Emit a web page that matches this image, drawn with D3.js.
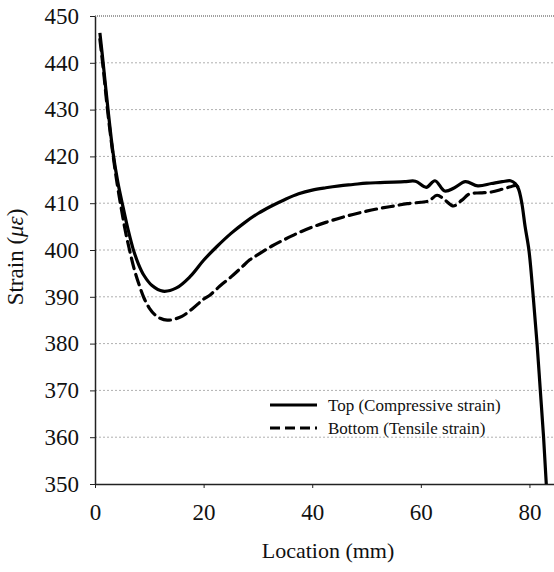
<!DOCTYPE html>
<html>
<head>
<meta charset="utf-8">
<script src="https://cdn.jsdelivr.net/npm/d3@7/dist/d3.min.js"></script>
<style>
  html, body { margin: 0; padding: 0; background: #fff; }
  svg { display: block; }
</style>
</head>
<body>
<svg id="chart" width="554" height="572"></svg>
<script>
// ---- Data ----
const xTicks = [0, 20, 40, 60, 80];
const yTicks = [350, 360, 370, 380, 390, 400, 410, 420, 430, 440, 450];

const topLabel = "Top (Compressive strain)";
const topX = [0.9, 1.5, 2.4, 3.3, 4.2, 5.2, 6.1, 7.0, 8.0, 9.0, 10.5, 12.5, 15, 17.5, 20, 22.5, 25, 27.5, 30, 32.5, 35, 37.5, 40, 42.5, 45, 47.5, 50, 52.5, 55, 57, 59, 61, 62.6, 64.4, 66.2, 68.2, 70.5, 73, 75, 76.5, 77.4, 78, 78.6, 79.2, 79.9, 80.7, 81.4, 82, 82.6, 83.1, 83.5];
const topY = [446.4, 440, 430, 421, 414.5, 409, 404.3, 400.3, 397, 394.6, 392.4, 391.2, 391.9, 394.3, 397.8, 400.8, 403.5, 405.8, 407.8, 409.4, 410.8, 412, 412.8, 413.3, 413.7, 414, 414.3, 414.4, 414.5, 414.6, 414.7, 413.4, 414.8, 412.6, 413.3, 414.6, 413.7, 414.2, 414.6, 414.8, 414.2, 413, 410, 405, 400, 390, 380, 370, 360, 350, 344];

const botLabel = "Bottom (Tensile strain)";
const botX = [0.9, 1.5, 2.3, 3.3, 4.1, 4.9, 5.6, 6.4, 7.2, 8, 9, 10, 11, 12, 13.3, 14.5, 16, 18, 20, 21.2, 23, 25, 27, 28.5, 30, 32.5, 35, 37.5, 40, 42.5, 45, 47.5, 50, 52.5, 55, 57.5, 60, 61.5, 63, 64.5, 66, 67.5, 69, 71, 73, 75, 76.5, 77.5, 78.2];
const botY = [445, 439, 430, 420.5, 414, 408.5, 404, 399.8, 396, 393, 389.8, 387.6, 386.2, 385.4, 385, 385.2, 385.8, 387.5, 389.5, 390.4, 392.3, 394.2, 396.3, 397.9, 399, 400.8, 402.3, 403.7, 404.9, 405.9, 406.8, 407.6, 408.3, 408.9, 409.4, 409.9, 410.2, 410.5, 411.7, 410.6, 409.4, 410.6, 412, 412.2, 412.4, 413, 413.5, 413.8, 413];

// ---- Layout ----
const svg = d3.select("#chart");
const x = d3.scaleLinear().domain([0, 85]).range([95, 556.6]);
const y = d3.scaleLinear().domain([350, 450]).range([484, 16]);
const serif = '"Liberation Serif", "Times New Roman", Tinos, Times, serif';

svg.append("defs").append("clipPath").attr("id", "plot")
  .append("rect").attr("x", 95).attr("y", 0).attr("width", 470).attr("height", 484);

// gridlines
const grid = svg.append("g");
grid.selectAll("line").data(yTicks.filter(v => v > 350 && v < 450)).join("line")
  .attr("x1", x(0)).attr("x2", 554)
  .attr("y1", d => y(d)).attr("y2", d => y(d))
  .attr("stroke", "#b0b0b0").attr("stroke-width", 1).attr("stroke-dasharray", "2,2");
// top border dotted
svg.append("line").attr("x1", x(0)).attr("x2", 554).attr("y1", y(450)).attr("y2", y(450))
  .attr("stroke", "#444").attr("stroke-width", 1.2).attr("stroke-dasharray", "1,1");

// axes
const yAxis = d3.axisLeft(y).tickValues(yTicks).tickSize(5).tickSizeOuter(0).tickPadding(11);
const gy = svg.append("g").attr("transform", `translate(${x(0)},0)`).call(yAxis)
  .attr("font-family", serif).attr("font-size", 23);
gy.select(".domain").attr("stroke", "#222").attr("stroke-width", 1.5);
gy.selectAll(".tick line").attr("stroke", "#222");
gy.selectAll("text").attr("fill", "#111");

const xAxis = d3.axisBottom(x).tickValues(xTicks).tickSize(4).tickSizeOuter(0).tickPadding(16);
const gx = svg.append("g").attr("transform", `translate(0,${y(350)})`).call(xAxis)
  .attr("font-family", serif).attr("font-size", 23);
gx.select(".domain").attr("stroke", "#222").attr("stroke-width", 1.5);
gx.selectAll(".tick line").attr("stroke", "#222");
gx.selectAll("text").attr("fill", "#111");

// lines
const line = d3.line().x(d => x(d[0])).y(d => y(d[1])).curve(d3.curveCatmullRom.alpha(0.5));
const topData = topX.map((v, i) => [v, topY[i]]);
const botData = botX.map((v, i) => [v, botY[i]]);
const plot = svg.append("g").attr("clip-path", "url(#plot)");
plot.append("path").datum(botData).attr("d", line)
  .attr("fill", "none").attr("stroke", "#000").attr("stroke-width", 3.2)
  .attr("stroke-dasharray", "11,6").attr("stroke-linecap", "round");
plot.append("path").datum(topData).attr("d", line)
  .attr("fill", "none").attr("stroke", "#000").attr("stroke-width", 3.2)
  .attr("stroke-linejoin", "round");

// legend
const lg = svg.append("g").attr("font-family", serif).attr("fill", "#111");
lg.append("line").attr("x1", 270).attr("x2", 317).attr("y1", 405).attr("y2", 405)
  .attr("stroke", "#000").attr("stroke-width", 3.2);
lg.append("line").attr("x1", 270).attr("x2", 317).attr("y1", 428).attr("y2", 428)
  .attr("stroke", "#000").attr("stroke-width", 3.2).attr("stroke-dasharray", "10,5");
lg.append("text").attr("x", 328).attr("y", 411).attr("font-size", 17).text(topLabel);
lg.append("text").attr("x", 328).attr("y", 434).attr("font-size", 17).text(botLabel);

// axis titles
svg.append("text").attr("x", 328).attr("y", 558).attr("text-anchor", "middle")
  .attr("font-family", serif).attr("font-size", 22).attr("fill", "#111").text("Location (mm)");
const yt = svg.append("text").attr("transform", "translate(23,257) rotate(-90)")
  .attr("text-anchor", "middle").attr("font-family", serif).attr("font-size", 23).attr("fill", "#111");
yt.append("tspan").text("Strain (");
yt.append("tspan").attr("font-style", "italic").text("με");
yt.append("tspan").text(")");
</script>
</body>
</html>
